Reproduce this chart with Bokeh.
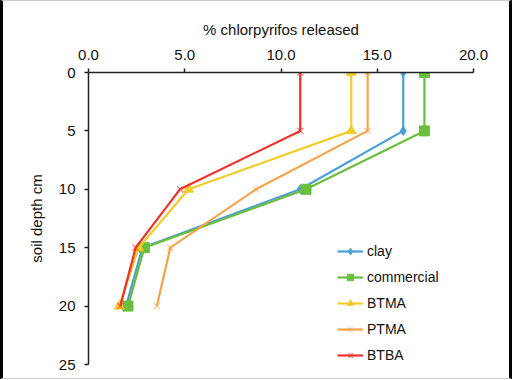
from bokeh.plotting import figure
from bokeh.models import Range1d, LinearAxis, FixedTicker, Legend, LegendItem, CustomJSTickFormatter
from bokeh.embed import file_html
from bokeh.resources import INLINE

depth = [0, 5, 10, 15, 20]
clay = [16.35, 16.35, 11.0, 2.8, 1.95]
commercial = [17.45, 17.45, 11.3, 2.9, 2.05]
btma = [13.65, 13.65, 5.2, 2.6, 1.6]
ptma = [14.5, 14.5, 8.7, 4.25, 3.55]
btba = [11.0, 11.0, 4.75, 2.45, 1.65]
names = ["clay", "commercial", "BTMA", "PTMA", "BTBA"]
x_ticks = [0, 5, 10, 15, 20]
y_ticks = [0, 5, 10, 15, 20, 25]

colors = ["#4a9fd8", "#6abf3c", "#f2cd2a", "#f7a448", "#f0302a"]
markers = ["diamond", "square", "triangle", "x", "x"]
msizes = [9, 10, 10, 9, 9]
series = [clay, commercial, btma, ptma, btba]

FONT = "Liberation Sans"

p = figure(width=512, height=379, output_backend="svg", toolbar_location=None,
           x_range=Range1d(0, 20), y_range=Range1d(25, 0),
           x_axis_location=None, y_axis_location=None,
           min_border_left=85, min_border_top=71, min_border_right=42, min_border_bottom=16)
p.grid.visible = False
p.outline_line_color = None
p.styles = {"border-left": "3px solid black", "border-right": "3px solid black",
            "border-top": "1px solid #cccccc", "border-bottom": "1px solid #cccccc",
            "box-sizing": "border-box"}

xa = LinearAxis(ticker=FixedTicker(ticks=x_ticks), axis_label="% chlorpyrifos released",
                formatter=CustomJSTickFormatter(code="return tick.toFixed(1);"))
ya = LinearAxis(ticker=FixedTicker(ticks=y_ticks), axis_label="soil depth cm")
for ax in (xa, ya):
    ax.minor_tick_line_color = None
    ax.major_tick_in = 0
    ax.major_tick_out = 4
    ax.axis_line_width = 1.5
    ax.major_tick_line_width = 1.5
    ax.axis_line_color = "#222222"
    ax.major_tick_line_color = "#222222"
    ax.major_label_text_font = FONT
    ax.major_label_text_font_size = "15px"
    ax.major_label_text_color = "#111111"
    ax.axis_label_text_font = FONT
    ax.axis_label_text_font_size = "15px"
    ax.axis_label_text_font_style = "normal"
    ax.axis_label_text_color = "#111111"
xa.major_label_standoff = 9
xa.axis_label_standoff = 9
ya.major_label_standoff = 9
ya.axis_label_standoff = 11
p.add_layout(xa, "above")
p.add_layout(ya, "left")

items = []
for name, vals, c, m, s in zip(names, series, colors, markers, msizes):
    r1 = p.line(vals, depth, line_color=c, line_width=2.2)
    if m == "x":
        r2 = p.scatter(vals, depth, marker=m, size=s, line_color=c, line_alpha=0.6, line_width=1.2)
    else:
        r2 = p.scatter(vals, depth, marker=m, size=s, fill_color=c, line_color=c)
    items.append(LegendItem(label=name, renderers=[r1, r2]))

legend = Legend(items=items, location=(249, 1), border_line_color=None,
                background_fill_alpha=0, label_text_font=FONT, label_text_font_size="14px",
                label_text_color="#111111", spacing=10, glyph_width=26, glyph_height=16,
                label_height=16, label_standoff=4, padding=0, margin=0)
p.add_layout(legend, "center")

open("out.html", "w").write(file_html(p, INLINE))
